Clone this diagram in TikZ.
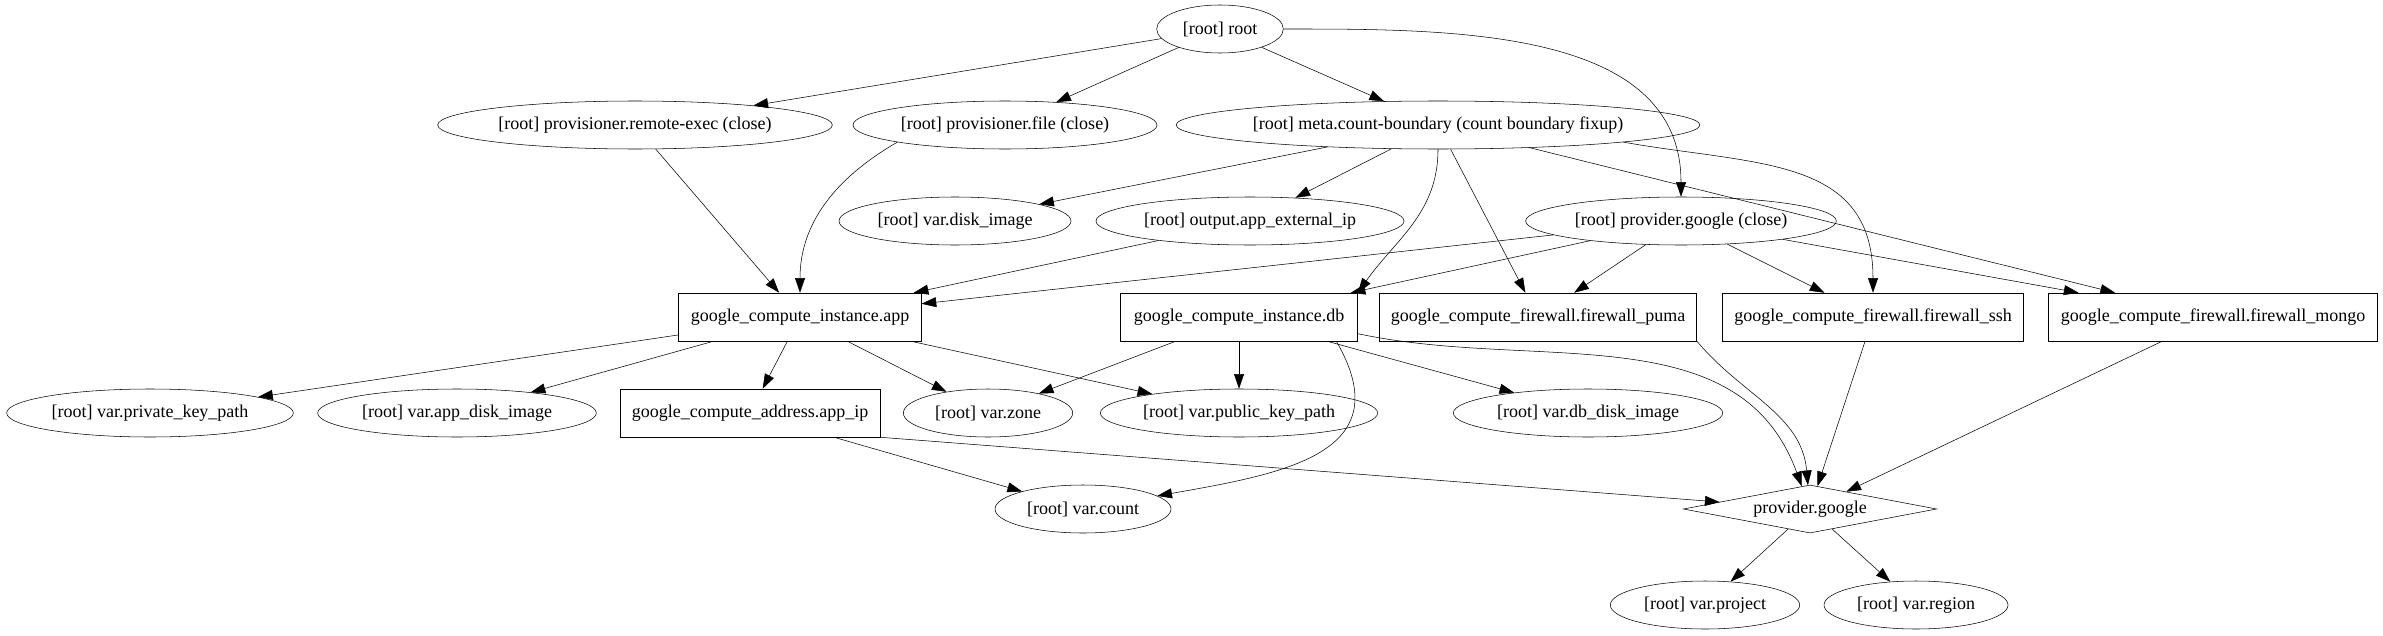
\documentclass[tikz,border=0pt]{standalone}
\usepackage{fontspec}
\setmainfont{Liberation Serif}
\usetikzlibrary{shapes.geometric, arrows.meta}
\tikzset{
->, % makes the edges directed
>={Triangle[length=11pt, width=7.5pt]}, % filled arrow heads
line width=1.1pt,
every node/.style={draw, font=\fontsize{13.5}{16}\selectfont, minimum height=36pt, inner sep=0pt}, % all nodes are outlined
var/.style={ellipse}, % variables, outputs, provisioners
res/.style={rectangle, inner xsep=8pt}, % resources
prov/.style={diamond, aspect=5.4}, % the provider
}

\begin{document}
\begin{tikzpicture}[x=0.75pt, y=-0.75pt]
    \useasboundingbox (0,0) rectangle (2383,635);
    \node[var, minimum width=95pt] (root) at (1220,29) {[root] root};
    \node[var, minimum width=296pt] (rexec) at (635,125) {[root] provisioner.remote-exec (close)};
    \node[var, minimum width=228pt] (pfile) at (1005,125) {[root] provisioner.file (close)};
    \node[var, minimum width=387pt] (meta) at (1438,125) {[root] meta.count-boundary (count boundary fixup)};
    \node[var, minimum width=174pt] (diskimg) at (955,221) {[root] var.disk\_image};
    \node[var, minimum width=231pt] (outip) at (1250,221) {[root] output.app\_external\_ip};
    \node[var, minimum width=233pt] (pclose) at (1681,221) {[root] provider.google (close)};
    \node[res, minimum width=182pt] (app) at (800,317) {google\_compute\_instance.app};
    \node[res, minimum width=178pt] (db) at (1239,317) {google\_compute\_instance.db};
    \node[res, minimum width=238pt] (puma) at (1538,317) {google\_compute\_firewall.firewall\_puma};
    \node[res, minimum width=226pt] (ssh) at (1873,317) {google\_compute\_firewall.firewall\_ssh};
    \node[res, minimum width=247pt] (mongo) at (2213,317) {google\_compute\_firewall.firewall\_mongo};
    \node[var, minimum width=215pt] (pkey) at (150,413) {[root] var.private\_key\_path};
    \node[var, minimum width=209pt] (appdisk) at (457,413) {[root] var.app\_disk\_image};
    \node[res, minimum width=195pt] (appip) at (750,413) {google\_compute\_address.app\_ip};
    \node[var, minimum width=127pt] (zone) at (988,413) {[root] var.zone};
    \node[var, minimum width=208pt] (pubkey) at (1239,413) {[root] var.public\_key\_path};
    \node[var, minimum width=202pt] (dbdisk) at (1588,413) {[root] var.db\_disk\_image};
    \node[var, minimum width=132pt] (count) at (1083,509) {[root] var.count};
    \node[prov, minimum width=190pt] (prov) at (1810,509) {provider.google};
    \node[var, minimum width=142pt] (project) at (1705,605) {[root] var.project};
    \node[var, minimum width=138pt] (region) at (1916,605) {[root] var.region};
    \path
    (root) edge (rexec)
    (root) edge (pfile)
    (root) edge (meta)
    (root) edge[out=0, in=90] (pclose)
    (rexec) edge (app)
    (pfile.south west) edge[out=-150, in=90] (app)
    (meta) edge (diskimg)
    (meta) edge (outip)
    (meta.south) edge[out=-90, in=55] (db.north east)
    (meta) edge (puma)
    (meta.south east) edge[out=-10, in=90, looseness=1.2] (ssh)
    (meta) edge (mongo)
    (outip) edge (app)
    (pclose) edge (app)
    (pclose) edge (db)
    (pclose) edge (puma)
    (pclose) edge (ssh)
    (pclose) edge (mongo)
    (app) edge (pkey)
    (app) edge (appdisk)
    (app) edge (appip)
    (app) edge (zone)
    (app) edge (pubkey)
    (db) edge (zone)
    (db) edge (pubkey)
    (db) edge (dbdisk)
    (db.-14) edge[out=-60, in=10, looseness=1.4] (count)
    (db.-8) edge[out=-12, in=110] (prov)
    (appip) edge (count)
    (appip.south east) edge (prov)
    (puma.south east) edge[out=-50, in=95] (prov)
    (ssh) edge (prov)
    (mongo) edge (prov)
    (prov) edge (project)
    (prov) edge (region);
\end{tikzpicture}
\end{document}
